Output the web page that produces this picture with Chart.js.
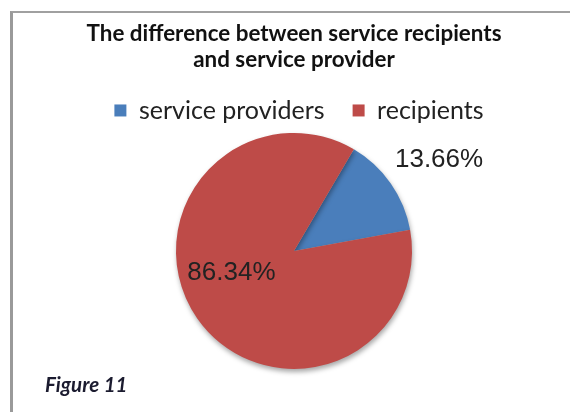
<!DOCTYPE html>
<html>
<head>
<meta charset="utf-8">
<script src="https://cdn.jsdelivr.net/npm/chart.js@4.4.0/dist/chart.umd.min.js"></script>
<style>
  html, body { margin: 0; padding: 0; background: #fff; overflow: hidden; }
  #wrap { position: relative; width: 570px; height: 412px; overflow: hidden; }
  #frame { position: absolute; left: 10px; top: 11px; width: 600px; height: 420px;
           border-left: 3px solid #9a9a9a; border-top: 2px solid #a0a0a0; box-sizing: border-box; }
  canvas { position: absolute; left: 0; top: 0; }
  #fig { position: absolute; left: 45px; top: 372px; font-family: Lato, "Open Sans", sans-serif;
         font-weight: bold; font-style: italic; font-size: 20.5px; color: #1b1b2f; }
</style>
</head>
<body>
<div id="wrap">
  <div id="frame"></div>
  <canvas id="c" width="570" height="412"></canvas>
  <div id="fig">Figure 11</div>
</div>
<script>
const titleLines = ["The difference between service recipients", "and service provider"];
const categories = ["service providers", "recipients"];
const shares = [13.66, 86.34];
const labelsText = ["13.66%", "86.34%"];

const labelPlugin = {
  id: 'sliceLabels',
  afterDatasetsDraw(chart, args, opts) {
    const ctx = chart.ctx;
    const meta = chart.getDatasetMeta(0);
    ctx.save();
    ctx.font = '26px "Liberation Sans", Arial, sans-serif';
    ctx.fillStyle = '#222';
    ctx.textAlign = 'center';
    ctx.textBaseline = 'middle';
    meta.data.forEach((arc, i) => {
      const p = arc.getProps(['x', 'y', 'startAngle', 'endAngle', 'outerRadius'], true);
      const a = (p.startAngle + p.endAngle) / 2 + opts.angleShift[i];
      const r = p.outerRadius * opts.radiusFactor[i];
      ctx.fillText(labelsText[i], p.x + Math.cos(a) * r, p.y + Math.sin(a) * r);
    });
    ctx.restore();
  }
};

const shadowPlugin = {
  id: 'pieShadow',
  beforeDatasetsDraw(chart) {
    const ctx = chart.ctx;
    ctx.save();
    ctx.shadowColor = 'rgba(0,0,0,0.35)';
    ctx.shadowBlur = 5;
    ctx.shadowOffsetX = 1;
    ctx.shadowOffsetY = 3;
  },
  afterDatasetsDraw(chart) {
    chart.ctx.restore();
  }
};

// nudge the legend box horizontally (the reference legend sits slightly right of the pie centre)
const legendShift = {
  id: 'legendShift',
  afterLayout(chart, args, opts) {
    const lg = chart.legend;
    if (lg) { lg.left += opts.dx; lg.right += opts.dx; }
  }
};

new Chart(document.getElementById('c'), {
  type: 'pie',
  data: {
    labels: categories,
    datasets: [{
      data: shares,
      backgroundColor: ['#4a7ebb', '#be4b48'],
      borderWidth: 0
    }]
  },
  options: {
    responsive: false,
    animation: false,
    rotation: 30.5,
    layout: { padding: { left: 18, right: 0, top: 0, bottom: 43 } },
    plugins: {
      tooltip: { enabled: false },
      title: {
        display: true,
        text: titleLines,
        color: '#111',
        font: { family: 'Lato, "Open Sans", sans-serif', size: 22.4, weight: 'bold', lineHeight: 1.16 },
        padding: { top: 21, bottom: -3 }
      },
      legend: {
        position: 'top',
        labels: {
          color: '#222',
          boxWidth: 12,
          boxHeight: 12,
          padding: 28,
          font: { family: 'Lato, "Open Sans", sans-serif', size: 25 }
        }
      },
      legendShift: { dx: 5 },
      sliceLabels: { radiusFactor: [1.45, 0.56], angleShift: [0.05, 0.28] }
    }
  },
  plugins: [shadowPlugin, labelPlugin, legendShift]
});
</script>
</body>
</html>
